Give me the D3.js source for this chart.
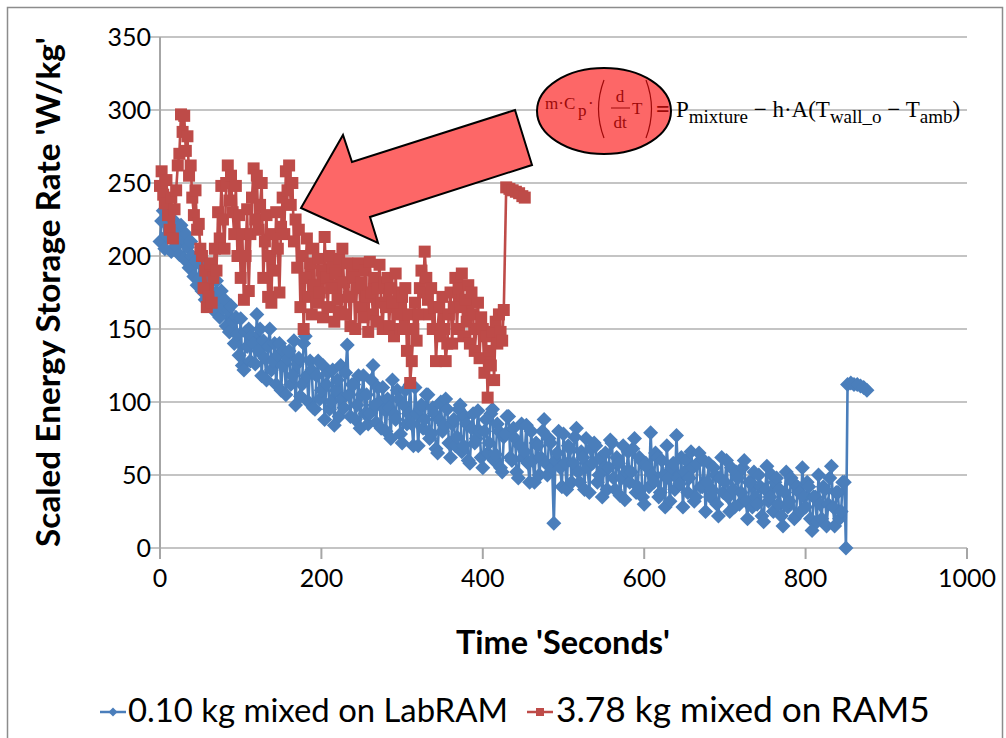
<!DOCTYPE html>
<html>
<head>
<meta charset="utf-8">
<script src="https://cdn.jsdelivr.net/npm/d3@7"></script>
<style>
  body { margin: 0; background: #fff; }
  svg { display: block; }
</style>
</head>
<body>
<div id="chart"></div>
<script>
// tick labels
const xTicks = [0, 200, 400, 600, 800, 1000];
const yTicks = [0, 50, 100, 150, 200, 250, 300, 350];

const seriesNames = ['0.10 kg mixed on LabRAM', '3.78 kg mixed on RAM5'];

// 0.10 kg on LabRAM (blue diamonds)
const blueSeconds = [
  0, 2, 4, 6, 8, 10, 12, 14, 16, 18, 20, 22, 24, 26, 28, 30, 32, 34, 36, 38,
  40, 42, 44, 46, 48, 50, 52, 54, 56, 58, 60, 62, 64, 66, 68, 70, 72, 74, 76, 78,
  80, 82, 84, 86, 88, 90, 92, 94, 96, 98, 100, 102, 104, 106, 108, 110, 112, 114, 116, 118,
  120, 122, 124, 126, 128, 130, 132, 134, 136, 138, 140, 142, 144, 146, 148, 150, 152, 154, 156, 158,
  160, 162, 164, 166, 168, 170, 172, 174, 176, 178, 180, 182, 184, 186, 188, 190, 192, 194, 196, 198,
  200, 202, 204, 206, 208, 210, 212, 214, 216, 218, 220, 222, 224, 226, 228, 230, 232, 234, 236, 238,
  240, 242, 244, 246, 248, 250, 252, 254, 256, 258, 260, 262, 264, 266, 268, 270, 272, 274, 276, 278,
  280, 282, 284, 286, 288, 290, 292, 294, 296, 298, 300, 302, 304, 306, 308, 310, 312, 314, 316, 318,
  320, 322, 324, 326, 328, 330, 332, 334, 336, 338, 340, 342, 344, 346, 348, 350, 352, 354, 356, 358,
  360, 362, 364, 366, 368, 370, 372, 374, 376, 378, 380, 382, 384, 386, 388, 390, 392, 394, 396, 398,
  400, 402, 404, 406, 408, 410, 412, 414, 416, 418, 420, 422, 424, 426, 428, 430, 432, 434, 436, 438,
  440, 442, 444, 446, 448, 450, 452, 454, 456, 458, 460, 462, 464, 466, 468, 470, 472, 474, 476, 478,
  480, 482, 484, 486, 488, 490, 492, 494, 496, 498, 500, 502, 504, 506, 508, 510, 512, 514, 516, 518,
  520, 522, 524, 526, 528, 530, 532, 534, 536, 538, 540, 542, 544, 546, 548, 550, 552, 554, 556, 558,
  560, 562, 564, 566, 568, 570, 572, 574, 576, 578, 580, 582, 584, 586, 588, 590, 592, 594, 596, 598,
  600, 602, 604, 606, 608, 610, 612, 614, 616, 618, 620, 622, 624, 626, 628, 630, 632, 634, 636, 638,
  640, 642, 644, 646, 648, 650, 652, 654, 656, 658, 660, 662, 664, 666, 668, 670, 672, 674, 676, 678,
  680, 682, 684, 686, 688, 690, 692, 694, 696, 698, 700, 702, 704, 706, 708, 710, 712, 714, 716, 718,
  720, 722, 724, 726, 728, 730, 732, 734, 736, 738, 740, 742, 744, 746, 748, 750, 752, 754, 756, 758,
  760, 762, 764, 766, 768, 770, 772, 774, 776, 778, 780, 782, 784, 786, 788, 790, 792, 794, 796, 798,
  800, 802, 804, 806, 808, 810, 812, 814, 816, 818, 820, 822, 824, 826, 828, 830, 832, 834, 836, 838,
  840, 842, 844, 846, 848, 850, 852, 856, 860, 864, 868, 872, 876
];
const blueRate = [
  210, 224, 231, 205, 214, 228, 220, 203, 225, 212, 207, 219, 201, 221, 212, 198, 215, 206, 192, 210,
  200, 186, 196, 180, 184, 199, 176, 192, 170, 188, 182, 166, 190, 175, 162, 183, 170, 158, 176, 164,
  170, 152, 163, 148, 166, 155, 140, 158, 146, 132, 157, 125, 122, 148, 138, 150, 128, 145, 140, 126,
  160, 135, 150, 118, 142, 130, 115, 138, 150, 122, 128, 140, 112, 132, 140, 108, 125, 135, 105, 130,
  135, 112, 118, 142, 98, 126, 130, 104, 112, 140, 145, 118, 100, 128, 122, 96, 95, 118, 128, 102,
  108, 125, 88, 112, 120, 95, 100, 122, 84, 108, 115, 90, 125, 102, 96, 120, 139, 105, 90, 112,
  112, 88, 98, 118, 82, 105, 118, 92, 105, 85, 92, 115, 125, 98, 86, 110, 100, 82, 110, 95,
  80, 102, 96, 75, 115, 92, 88, 108, 102, 78, 72, 98, 108, 85, 92, 112, 85, 70, 110, 92,
  70, 95, 98, 82, 88, 105, 105, 75, 78, 96, 92, 68, 65, 88, 100, 80, 84, 102, 95, 72,
  62, 85, 88, 70, 76, 95, 98, 66, 70, 90, 85, 60, 58, 82, 92, 72, 75, 94, 80, 62,
  55, 80, 88, 65, 72, 92, 95, 60, 64, 85, 80, 55, 52, 76, 78, 90, 90, 62, 60, 82,
  75, 52, 48, 70, 85, 62, 66, 84, 58, 45, 80, 60, 45, 72, 70, 50, 62, 80, 88, 58,
  50, 75, 72, 55, 17, 60, 65, 80, 55, 42, 78, 58, 40, 70, 68, 45, 58, 76, 82, 52,
  45, 66, 62, 40, 75, 55, 38, 68, 58, 72, 70, 45, 50, 62, 35, 55, 65, 40, 55, 74,
  72, 48, 40, 62, 58, 36, 48, 70, 33, 52, 66, 45, 52, 68, 75, 38, 42, 62, 60, 35,
  30, 58, 55, 42, 79, 50, 45, 65, 62, 35, 38, 60, 50, 28, 70, 48, 32, 55, 58, 40,
  77, 48, 44, 62, 28, 52, 60, 38, 48, 66, 55, 32, 35, 58, 65, 42, 42, 60, 25, 45,
  58, 35, 40, 55, 50, 30, 22, 48, 62, 38, 45, 60, 35, 25, 55, 40, 28, 52, 48, 30,
  38, 55, 60, 32, 20, 45, 45, 28, 52, 35, 30, 50, 42, 22, 18, 40, 56, 32, 35, 50,
  25, 45, 48, 30, 40, 22, 15, 38, 52, 28, 32, 48, 45, 20, 22, 42, 38, 25, 55, 35,
  28, 45, 42, 20, 12, 35, 35, 18, 50, 30, 20, 42, 40, 15, 30, 48, 56, 28, 15, 38,
  38, 20, 25, 45, 45, 0, 112, 113, 112, 112, 111, 110, 108
];

// 3.78 kg on RAM5 (red squares)
const redSeconds = [
  0, 2, 4, 6, 8, 10, 12, 14, 16, 18, 20, 22, 24, 26, 28, 30, 32, 34, 36, 38,
  40, 42, 44, 46, 48, 50, 52, 54, 56, 58, 60, 62, 64, 66, 68, 70, 72, 74, 76, 78,
  80, 82, 84, 86, 88, 90, 92, 94, 96, 98, 100, 102, 104, 106, 108, 110, 112, 114, 116, 118,
  120, 122, 124, 126, 128, 130, 132, 134, 136, 138, 140, 142, 144, 146, 148, 150, 152, 154, 156, 158,
  160, 162, 164, 166, 168, 170, 172, 174, 176, 178, 180, 182, 184, 186, 188, 190, 192, 194, 196, 198,
  200, 202, 204, 206, 208, 210, 212, 214, 216, 218, 220, 222, 224, 226, 228, 230, 232, 234, 236, 238,
  240, 242, 244, 246, 248, 250, 252, 254, 256, 258, 260, 262, 264, 266, 268, 270, 272, 274, 276, 278,
  280, 282, 284, 286, 288, 290, 292, 294, 296, 298, 300, 302, 304, 306, 308, 310, 312, 314, 316, 318,
  320, 322, 324, 326, 328, 330, 332, 334, 336, 338, 340, 342, 344, 346, 348, 350, 352, 354, 356, 358,
  360, 362, 364, 366, 368, 370, 372, 374, 376, 378, 380, 382, 384, 386, 388, 390, 392, 394, 396, 398,
  400, 402, 404, 406, 408, 410, 412, 414, 416, 418, 420, 422, 424, 426,
  429, 433, 437, 441, 445, 449, 452
];
const redRate = [
  248, 258, 242, 236, 252, 228, 218, 240, 212, 232, 245, 262, 270, 297, 285, 296, 272, 282, 255, 262,
  240, 228, 245, 218, 222, 205, 200, 178, 190, 165, 172, 195, 168, 185, 205, 190, 230, 212, 248, 225,
  205, 250, 262, 238, 255, 230, 215, 248, 200, 228, 185, 215, 170, 200, 232, 176, 215, 240, 260, 225,
  255, 218, 235, 250, 185, 210, 228, 172, 200, 168, 215, 190, 230, 205, 175, 220, 240, 215, 258, 245,
  262, 235, 250, 210, 225, 192, 218, 165, 200, 150, 185, 212, 172, 195, 160, 205, 180, 168, 198, 175,
  190, 158, 213, 185, 165, 200, 178, 192, 155, 188, 170, 198, 162, 205, 182, 160, 195, 172, 152, 188,
  185, 150, 178, 195, 165, 182, 158, 190, 172, 148, 196, 175, 160, 185, 155, 178, 194, 168, 150, 182,
  165, 185, 152, 178, 168, 145, 188, 160, 175, 150, 172, 150, 178, 135, 160, 113, 128, 150, 168, 142,
  160, 178, 190, 175, 203, 185, 170, 160, 178, 150, 165, 128, 150, 165, 145, 172, 150, 128, 140, 160,
  175, 140, 165, 185, 150, 178, 165, 188, 145, 170, 155, 180, 140, 175, 160, 135, 150, 168, 130, 158,
  150, 120, 145, 103, 135, 125, 148, 115, 155, 140, 160, 148, 142, 163,
  247, 246, 245, 244, 243, 241, 240
];

const W = 1006, H = 738;
const blueColor = '#4a7ebb';
const redColor = '#be4b48';

const svg = d3.select('#chart')
    .append('svg')
    .attr('width', W)
    .attr('height', H);

// outer chart border
svg.append('rect')
    .attr('x', 7.5).attr('y', 7.5)
    .attr('width', 995).attr('height', 740)
    .attr('fill', '#fff')
    .attr('stroke', '#8c8c8c')
    .attr('stroke-width', 1.5);

const x = d3.scaleLinear().domain([0, 1000]).range([160, 967]);
const y = d3.scaleLinear().domain([0, 350]).range([548, 37]);

const font = 'Lato, "Open Sans", sans-serif';

// horizontal gridlines
svg.append('g')
    .selectAll('line')
    .data(yTicks)
    .enter()
    .append('line')
    .attr('x1', 148)
    .attr('x2', x(1000))
    .attr('y1', d => y(d))
    .attr('y2', d => y(d))
    .style('stroke', '#c4c4c4')
    .style('stroke-width', 2);

// y axis line
svg.append('line')
    .attr('x1', x(0)).attr('x2', x(0))
    .attr('y1', y(350)).attr('y2', y(0))
    .style('stroke', '#a6a6a6')
    .style('stroke-width', 2);

// x axis tick marks
svg.append('g')
    .selectAll('line')
    .data(xTicks)
    .enter()
    .append('line')
    .attr('x1', d => x(d)).attr('x2', d => x(d))
    .attr('y1', y(0)).attr('y2', y(0) + 11)
    .style('stroke', '#a6a6a6')
    .style('stroke-width', 2);

svg.append('g')
    .selectAll('text')
    .data(yTicks)
    .enter()
    .append('text')
    .attr('x', 151)
    .attr('y', d => y(d))
    .attr('dy', '0.36em')
    .attr('text-anchor', 'end')
    .style('font-family', font)
    .style('font-size', '25px')
    .style('fill', '#000')
    .text(d => d);

svg.append('g')
    .selectAll('text')
    .data(xTicks)
    .enter()
    .append('text')
    .attr('x', d => x(d))
    .attr('y', 587)
    .attr('text-anchor', 'middle')
    .style('font-family', font)
    .style('font-size', '25px')
    .style('fill', '#000')
    .text(d => d);

// scale a text node so it spans the given width
function fitWidth(sel, width) {
    const len = sel.node().getComputedTextLength();
    const fs = parseFloat(sel.style('font-size'));
    sel.style('font-size', (fs * width / len) + 'px');
}

const yTitle = svg.append('text')
    .attr('transform', 'translate(60,292) rotate(-90)')
    .attr('text-anchor', 'middle')
    .style('font-family', font)
    .style('font-weight', 'bold')
    .style('font-size', '24px')
    .text("Scaled Energy Storage Rate 'W/kg'");
fitWidth(yTitle, 510);

const xTitle = svg.append('text')
    .attr('x', 563)
    .attr('y', 654)
    .attr('text-anchor', 'middle')
    .style('font-family', font)
    .style('font-weight', 'bold')
    .style('font-size', '26px')
    .text("Time 'Seconds'");
fitWidth(xTitle, 214);

const diamond = r => `M0,${-r}L${r},0L0,${r}L${-r},0Z`;

function drawSeries(times, values, color, shape, cls) {
    const pts = times.map((t, i) => [t, values[i]]);
    const line = d3.line()
        .x(d => x(d[0]))
        .y(d => y(d[1]));
    svg.append('path')
        .datum(pts)
        .attr('fill', 'none')
        .attr('stroke', color)
        .attr('stroke-width', 2.6)
        .attr('stroke-linejoin', 'round')
        .attr('d', line);
    svg.selectAll('.' + cls)
        .data(pts)
        .enter()
        .append('path')
        .attr('class', cls)
        .attr('transform', d => `translate(${x(d[0])},${y(d[1])})`)
        .attr('d', shape)
        .attr('fill', color);
}

drawSeries(blueSeconds, blueRate, blueColor, diamond(7.5), 'dot-blue');
drawSeries(redSeconds, redRate, redColor, 'M-6,-6H6V6H-6Z', 'dot-red');

// annotation arrow
const arrowPts = [[301, 208], [343, 135], [352, 162], [515, 110], [532, 165], [370, 217], [378, 243]];
svg.append('polygon')
    .attr('points', arrowPts.map(p => p.join(',')).join(' '))
    .attr('fill', '#fd6767')
    .attr('stroke', '#000')
    .attr('stroke-width', 2)
    .attr('stroke-linejoin', 'miter');

svg.append('ellipse')
    .attr('cx', 604).attr('cy', 111)
    .attr('rx', 67).attr('ry', 43)
    .attr('fill', '#fd6767')
    .attr('stroke', '#000')
    .attr('stroke-width', 2);

// equation, left side inside the ellipse
const serif = '"Liberation Serif", "DejaVu Serif", serif';
const eqRed = '#9e0a0a';
const eq = svg.append('g')
    .style('font-family', serif)
    .style('fill', eqRed);

eq.append('text').attr('x', 545).attr('y', 109).style('font-size', '17px').text('m·C');
eq.append('text').attr('x', 578).attr('y', 116).style('font-size', '17px').text('p');
eq.append('text').attr('x', 588).attr('y', 109).style('font-size', '17px').text('·');
eq.append('path').attr('d', 'M604,80 Q593,109 604,138').attr('fill', 'none').attr('stroke', eqRed).attr('stroke-width', 1.2);
eq.append('text').attr('x', 620).attr('y', 102).attr('text-anchor', 'middle').style('font-size', '17px').text('d');
eq.append('line').attr('x1', 611).attr('x2', 630).attr('y1', 108).attr('y2', 108).attr('stroke', eqRed).attr('stroke-width', 1);
eq.append('text').attr('x', 620).attr('y', 128).attr('text-anchor', 'middle').style('font-size', '17px').text('dt');
eq.append('text').attr('x', 632).attr('y', 114).style('font-size', '17px').text('T');
eq.append('path').attr('d', 'M646,80 Q657,109 646,138').attr('fill', 'none').attr('stroke', eqRed).attr('stroke-width', 1.2);
eq.append('text').attr('x', 656).attr('y', 117).style('font-size', '24px').style('font-weight', 'bold').text('=');

// right side of the equation
const rhs = svg.append('text')
    .attr('x', 676)
    .attr('y', 117)
    .style('font-family', serif)
    .style('font-size', '23px')
    .style('fill', '#000');
rhs.append('tspan').text('P');
rhs.append('tspan').attr('dy', 6).style('font-size', '19px').text('mixture');
rhs.append('tspan').attr('dy', -6).text(' − h·A(');
rhs.append('tspan').text('T');
rhs.append('tspan').attr('dy', 6).style('font-size', '19px').text('wall_o');
rhs.append('tspan').attr('dy', -6).text(' − T');
rhs.append('tspan').attr('dy', 6).style('font-size', '19px').text('amb');
rhs.append('tspan').attr('dy', -6).text(')');

// legend
const legend = svg.append('g');
const legendItems = [
    { name: seriesNames[0], color: blueColor, shape: diamond(4.5), x0: 100, tx: 128, w: 380 },
    { name: seriesNames[1], color: redColor, shape: 'M-4,-4H4V4H-4Z', x0: 527, tx: 556, w: 374 }
];
legendItems.forEach(item => {
    legend.append('line')
        .attr('x1', item.x0).attr('x2', item.x0 + 26)
        .attr('y1', 712).attr('y2', 712)
        .attr('stroke', item.color)
        .attr('stroke-width', 2.5);
    legend.append('path')
        .attr('transform', `translate(${item.x0 + 13},712)`)
        .attr('d', item.shape)
        .attr('fill', item.color);
    const t = legend.append('text')
        .attr('x', item.tx)
        .attr('y', 722)
        .style('font-family', font)
        .style('font-size', '28px')
        .text(item.name);
    fitWidth(t, item.w);
});
</script>
</body>
</html>
